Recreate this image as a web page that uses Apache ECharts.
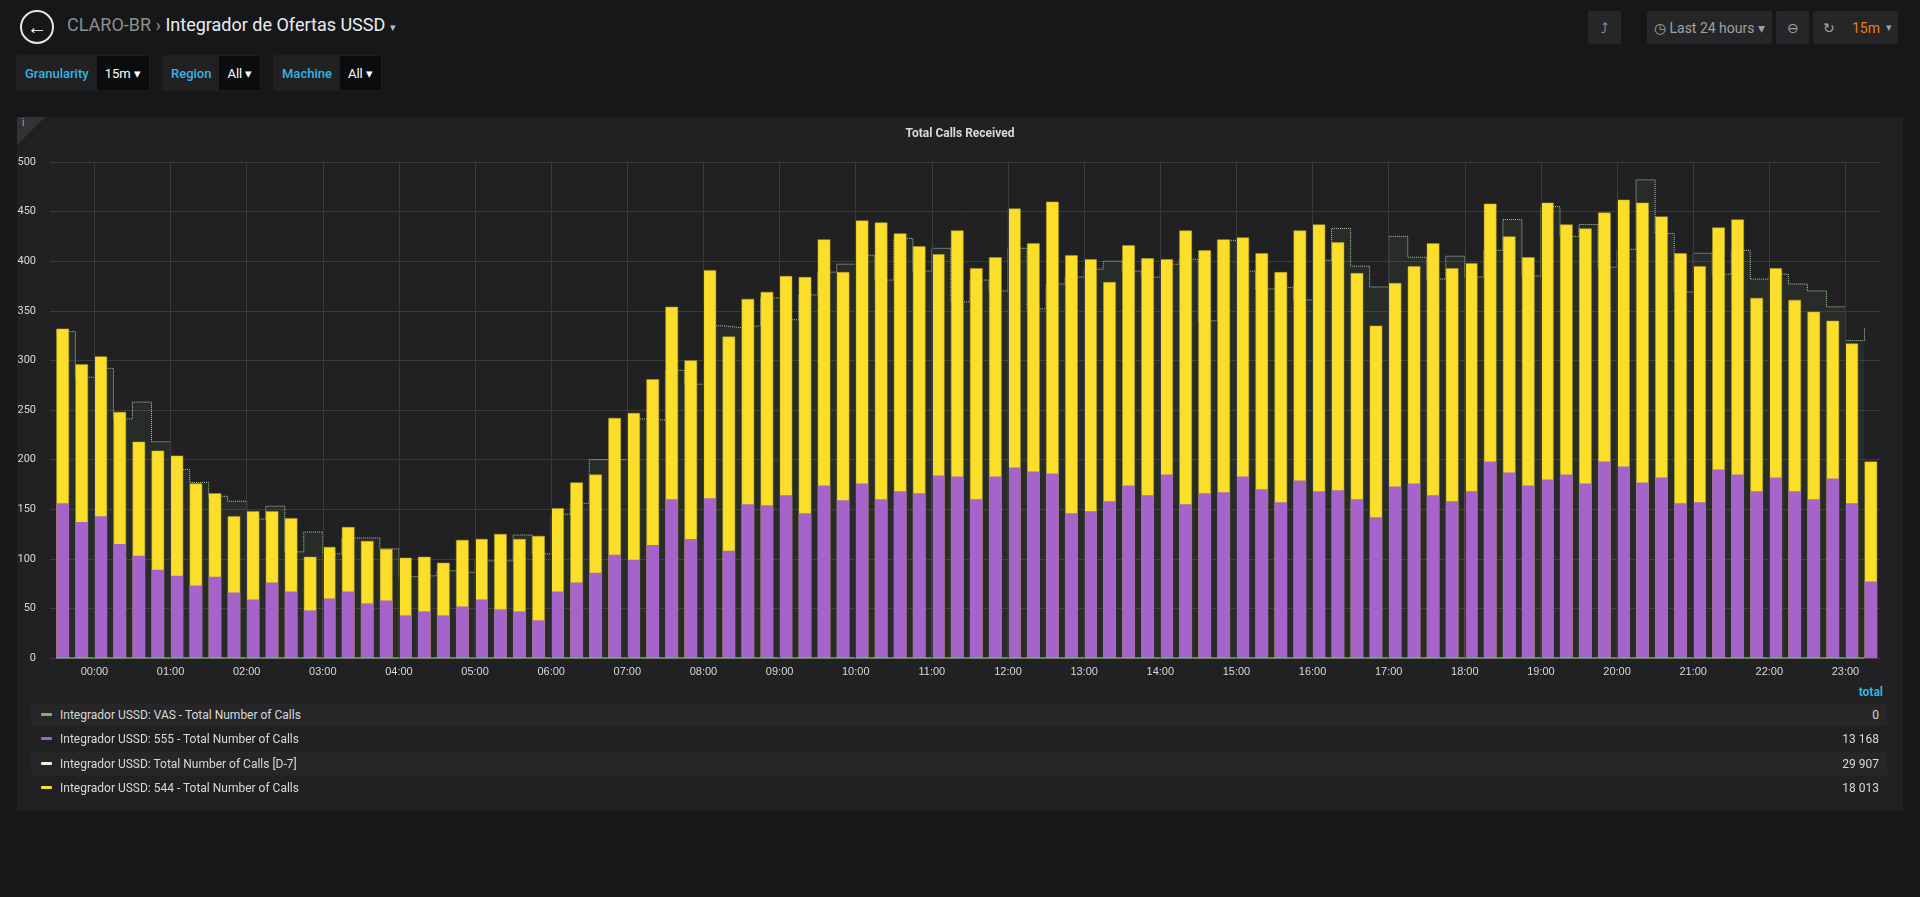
<!DOCTYPE html>
<html><head><meta charset="utf-8">
<script src="https://cdn.jsdelivr.net/npm/echarts@6/dist/echarts.min.js"></script>
<style>
body{margin:0;background:#161719;font-family:Roboto,"Noto Sans",sans-serif;color:#d8d9da;width:1920px;height:897px;overflow:hidden;position:relative}
.abs{position:absolute}
.btn{position:absolute;background:#262628;border-radius:2px;height:33px;top:11px;color:#9fa1a3;font-size:14px;display:flex;align-items:center;justify-content:center}
.var{position:absolute;top:55px;height:34px;display:flex;font-size:13px;border:1px solid #1f1f22;border-radius:2px}
.var .l{background:#212124;color:#33b5e5;padding:0 8px;display:flex;align-items:center;font-weight:500}
.var .v{background:#0b0c0e;color:#fff;padding:0 8px;display:flex;align-items:center}
.row{position:absolute;left:31px;width:1856px;height:23px;font-size:12px;display:flex;align-items:center}
.row .m{width:11px;height:3px;margin:0 8px 0 10px;border-radius:1px}
.row .n{flex:1}
.row .t{padding-right:8px}
</style></head><body>
<div class="abs" style="left:20px;top:10px;width:30px;height:30px;border:2px solid #e6e6e6;border-radius:50%;display:flex;align-items:center;justify-content:center;color:#fff;font-size:20px;font-weight:bold">&#x2190;</div>
<div class="abs" style="left:67px;top:14px;font-size:18px;color:#8e8e8e">CLARO-BR <span style="color:#8e8e8e">&#x203A;</span> <span style="color:#e9edf2">Integrador de Ofertas USSD</span> <span style="color:#bbb;font-size:11px">&#x25BE;</span></div>
<div class="var" style="left:16px"><div class="l">Granularity</div><div class="v">15m &#x25BE;</div></div>
<div class="var" style="left:162px"><div class="l">Region</div><div class="v">All &#x25BE;</div></div>
<div class="var" style="left:273px"><div class="l">Machine</div><div class="v">All &#x25BE;</div></div>
<div class="btn" style="left:1588px;width:33px">&#x2934;</div>
<div class="btn" style="left:1647px;width:125px">&#x25F7; Last 24 hours &#x25BE;</div>
<div class="btn" style="left:1776px;width:33px">&#x2296;</div>
<div class="btn" style="left:1813px;width:85px;justify-content:flex-start"><span style="width:31px;text-align:center">&#x21BB;</span><span style="color:#eb7b18;margin-left:8px">15m</span><span style="margin-left:6px;font-size:11px">&#x25BE;</span></div>
<div class="abs" style="left:17px;top:117px;width:1886px;height:694px;background:#212124"></div>
<div class="abs" style="left:17px;top:117px;width:0;height:0;border-top:28px solid #333336;border-right:28px solid transparent"></div>
<div class="abs" style="left:22px;top:117px;font-size:10px;color:#aaa">i</div>
<div id="c" class="abs" style="left:0;top:0;width:1920px;height:897px"></div>
<div class="abs" style="left:1820px;top:685px;width:63px;text-align:right;font-size:12px;color:#33b5e5;font-weight:bold">total</div>
<div class="row" style="top:703px;background:#262628"><div class="m" style="background:#7eb26d"></div><div class="n">Integrador USSD: VAS - Total Number of Calls</div><div class="t">0</div></div>
<div class="row" style="top:727px"><div class="m" style="background:#a564c9"></div><div class="n">Integrador USSD: 555 - Total Number of Calls</div><div class="t">13 168</div></div>
<div class="row" style="top:752px;background:#262628"><div class="m" style="background:#e0f9d7"></div><div class="n">Integrador USSD: Total Number of Calls [D-7]</div><div class="t">29 907</div></div>
<div class="row" style="top:776px"><div class="m" style="background:#fade2a"></div><div class="n">Integrador USSD: 544 - Total Number of Calls</div><div class="t">18 013</div></div>
<script>
const totals=[332,296,304,248,218,209,204,176,166,143,148,148,141,102,112,132,118,110,101,102,96,119,120,125,120,123,151,177,185,242,247,281,
354,300,391,324,362,369,385,384,422,389,441,439,428,415,407,431,393,404,453,418,460,406,402,379,416,403,402,431,411,422,424,408,389,
431,437,419,388,335,378,395,418,393,398,458,425,404,459,437,433,449,462,459,445,408,395,434,442,363,393,361,349,340,317,198];
const calls555=[156,137,143,115,103,89,83,73,82,66,59,76,67,48,60,67,55,58,43,47,43,52,59,49,47,38,67,76,86,104,99,114,
160,120,161,108,155,154,164,146,174,159,176,160,168,166,184,183,160,183,192,188,186,146,148,158,174,164,185,155,166,167,183,170,157,
179,168,169,160,142,173,176,164,158,168,198,187,174,180,185,176,198,193,177,182,156,157,190,185,168,182,168,160,181,156,77];
const calls544=totals.map((t,i)=>t-calls555[i]);
const d7=[329,283,292,241,258,218,190,177,163,158,140,153,107,127,105,121,121,110,82,83,88,86,98,98,124,105,145,156,200,200,241,240,
290,276,335,333,335,363,341,366,389,397,406,381,423,390,413,359,381,370,413,352,377,384,392,400,390,384,397,402,340,421,390,372,374,
361,401,433,395,374,425,404,382,405,384,411,442,385,455,425,437,394,412,482,428,369,408,387,411,382,387,377,370,354,320,333];
const vas=totals.map(()=>0);
const startMin=-30, stepMin=15;
const hourTicks=[0,60,120,180,240,300,360,420,480,540,600,660,720,780,840,900,960,1020,1080,1140,1200,1260,1320,1380];
const hourLabels=['00:00','01:00','02:00','03:00','04:00','05:00','06:00','07:00','08:00','09:00','10:00','11:00','12:00','13:00','14:00','15:00','16:00','17:00','18:00','19:00','20:00','21:00','22:00','23:00'];
const ts=totals.map((_,i)=>startMin+stepMin*i);
const ch=echarts.init(document.getElementById('c'));
const tc='#d8d9da';
ch.setOption({
 animation:false,
 title:{text:'Total Calls Received',left:'center',top:123,textStyle:{color:tc,fontSize:12,fontWeight:'bold',fontFamily:'Roboto'}},
 grid:{left:50,right:39,top:162,bottom:239},
 xAxis:{type:'value',min:-35,max:1408,axisLabel:{show:false},splitLine:{show:false},axisTick:{show:false},axisLine:{show:false}},
 yAxis:{type:'value',min:0,max:500,interval:50,axisLabel:{color:tc,fontSize:11,margin:14,fontFamily:'Roboto'},splitLine:{lineStyle:{color:'#3b3b3e'}},axisLine:{show:false},axisTick:{show:false}},
 series:[
  {type:'line',name:'D-7',step:'end',symbol:'none',data:ts.map((t,i)=>[t,d7[i]]),z:1,
   lineStyle:{color:'#c9e8bf',width:1,type:'dotted',opacity:0.85},areaStyle:{color:'rgba(110,150,100,0.13)'}},
  {type:'bar',name:'544',data:ts.map((t,i)=>[t+5,calls555[i]+calls544[i]]),barWidth:12.6,itemStyle:{color:'#fade2a',borderColor:'#b8a21c',borderWidth:0.5},z:2},
  {type:'bar',name:'555',data:ts.map((t,i)=>[t+5,calls555[i]]),barWidth:12.6,barGap:'-100%',itemStyle:{color:'#a564c9'},z:3},
  {type:'line',name:'VAS',symbol:'none',data:ts.map((t,i)=>[t,vas[i]]),z:4,lineStyle:{color:'#7eb26d',width:1.5},
   markLine:{silent:true,symbol:'none',lineStyle:{color:'#3b3b3e',type:'solid',width:1},
    label:{position:'start',color:tc,fontSize:11,distance:8,formatter:p=>hourLabels[hourTicks.indexOf(p.value)]},
    data:hourTicks.map(h=>({xAxis:h}))}}
 ]
});
</script></body></html>
